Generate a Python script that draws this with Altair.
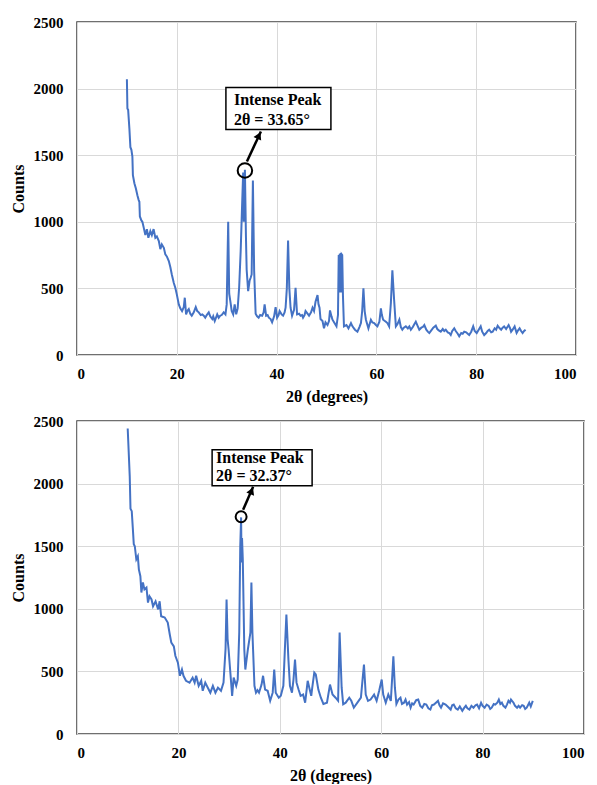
import altair as alt
import pandas as pd

# ---------------- data ----------------
top_theta = [10.0, 10.1, 10.25, 10.5, 10.7, 10.9, 11.1, 11.2, 11.5, 11.8, 12.1, 12.35, 12.5, 12.6, 12.9, 13.1,
             13.35, 13.7, 14.0, 14.3, 14.7, 15.0, 15.35, 15.7, 16.0, 16.4, 16.7, 17.0, 17.4, 17.7, 18.0, 18.4,
             18.7, 19.0, 19.4, 19.7, 20.0, 20.4, 20.7, 21.05, 21.4, 21.6, 21.86, 22.1, 22.4, 22.7, 23.0, 23.4,
             23.8, 24.1, 24.4, 24.8, 25.1, 25.4, 25.7, 26.0, 26.4, 26.7, 27.1, 27.3, 27.6, 27.9, 28.1, 28.4,
             28.7, 29.0, 29.4, 29.75, 30.0, 30.3, 30.5, 30.8, 31.0, 31.3, 31.6, 31.9, 32.2, 32.5, 32.8, 33.1,
             33.3, 33.42, 33.65, 33.85, 34.0, 34.3, 34.6, 34.8, 35.0, 35.25, 35.5, 35.8, 36.1, 36.4, 36.7, 37.1,
             37.4, 37.6, 37.9, 38.2, 38.45, 38.8, 39.1, 39.5, 39.8, 40.1, 40.4, 40.6, 41.0, 41.3, 41.6, 41.8,
             42.05, 42.3, 42.55, 42.8, 43.1, 43.5, 43.8, 44.1, 44.5, 44.8, 45.1, 45.3, 45.6, 45.8, 46.2, 46.5,
             46.9, 47.2, 47.5, 47.8, 48.2, 48.4, 48.6, 48.8, 49.2, 49.5, 49.8, 50.2, 50.5, 50.7, 51.0, 51.2,
             51.6, 52.0, 52.3, 52.45, 52.55, 52.65, 52.75, 52.85, 52.95, 53.05, 53.15, 53.3, 53.5, 54.0, 54.4,
             54.9, 55.2, 55.7, 56.2, 56.6, 56.9, 57.15, 57.4, 57.65, 57.9, 58.4, 58.9, 59.2, 59.55, 59.9, 60.2,
             60.6, 60.9, 61.1, 61.35, 61.9, 62.2, 62.55, 62.9, 63.2, 63.55, 63.9, 64.2, 64.6, 64.9, 65.2, 65.5,
             65.9, 66.3, 66.6, 66.9, 67.3, 67.6, 67.9, 68.3, 68.6, 69.0, 69.3, 69.6, 70.0, 70.3, 70.6, 71.0,
             71.4, 71.9, 72.2, 72.5, 72.9, 73.3, 73.6, 73.9, 74.3, 74.6, 74.9, 75.2, 75.6, 75.9, 76.3, 76.6,
             77.0, 77.3, 77.6, 78.0, 78.3, 78.6, 79.0, 79.4, 79.7, 80.1, 80.5, 80.9, 81.2, 81.6, 82.0, 82.3,
             82.6, 83.0, 83.3, 83.7, 84.0, 84.3, 84.7, 85.0, 85.3, 85.6, 86.0, 86.5, 86.8, 87.0, 87.3, 87.7,
             88.1, 88.4, 88.7, 89.0, 89.3, 89.6, 89.9]
top_counts = [2070, 1850, 1840, 1700, 1560, 1540, 1490, 1350, 1290, 1250, 1200, 1165, 1150, 1040, 1010, 1000,
              960, 900, 945, 880, 930, 900, 945, 880, 890, 855, 795, 830, 805, 755, 740, 705,
              660, 605, 540, 505, 455, 380, 350, 330, 360, 430, 305, 330, 345, 310, 295, 320,
              360, 330, 320, 300, 305, 295, 280, 300, 320, 290, 270, 290, 255, 285, 305, 280,
              295, 300, 320, 305, 380, 1000, 460, 385, 330, 305, 380, 305, 350, 510, 780, 1140,
              1370, 1000, 1390, 900, 640, 480, 560, 580, 605, 1310, 630, 310, 290, 280, 300, 295,
              320, 380, 295, 300, 280, 270, 245, 290, 360, 280, 300, 330, 305, 295, 320, 355,
              500, 860, 500, 355, 295, 340, 505, 305, 310, 295, 300, 280, 300, 330, 310, 295,
              320, 355, 330, 400, 450, 380, 355, 270, 255, 200, 245, 225, 255, 335, 290, 265,
              240, 215, 300, 750, 470, 760, 470, 765, 470, 755, 750, 440, 215, 225, 200,
              240, 215, 190, 175, 210, 240, 330, 500, 330, 265, 200, 265, 245, 240, 225, 215,
              250, 350, 300, 265, 250, 240, 215, 390, 635, 415, 215, 230, 265, 210, 190, 205,
              215, 200, 215, 190, 210, 230, 250, 215, 190, 205, 210, 225, 190, 175, 165, 185,
              205, 220, 195, 185, 175, 195, 180, 190, 170, 165, 150, 180, 200, 180, 160, 140,
              165, 160, 175, 170, 160, 150, 175, 215, 180, 165, 190, 215, 175, 150, 165, 180,
              190, 170, 175, 200, 190, 220, 200, 190, 205, 215, 195, 225, 200, 175, 190, 215,
              165, 185, 200, 180, 165, 180, 190]

bot_theta = [10.0, 10.2, 10.4, 10.55, 10.8, 11.0, 11.2, 11.4, 11.7, 12.0, 12.2, 12.5, 12.7, 13.0, 13.3, 13.7,
             14.0, 14.3, 14.7, 15.0, 15.5, 16.0, 16.3, 16.6, 17.0, 17.3, 17.9, 18.3, 18.6, 19.1, 19.4, 19.9,
             20.3, 20.7, 21.0, 21.5, 22.2, 22.8, 23.2, 23.5, 24.0, 24.5, 24.8, 25.3, 25.8, 26.3, 26.8, 27.3,
             27.8, 28.4, 28.9, 29.3, 29.5, 29.7, 29.9, 30.2, 30.6, 30.9, 31.4, 31.7, 32.0, 32.2, 32.37, 32.45,
             32.55, 32.7, 33.0, 33.2, 33.7, 34.0, 34.2, 34.4, 34.6, 35.0, 35.3, 35.6, 35.9, 36.4, 36.7, 37.1,
             37.6, 38.1, 38.6, 38.9, 39.2, 39.8, 40.2, 40.7, 41.0, 41.3, 41.7, 42.0, 42.4, 42.7, 43.0, 43.3,
             43.7, 44.1, 44.6, 45.0, 45.5, 45.9, 46.2, 46.4, 46.8, 47.1, 47.6, 48.1, 48.6, 49.3, 49.9, 50.4,
             51.0, 51.5, 51.8, 52.2, 52.5, 53.0, 53.7, 54.1, 54.6, 55.3, 56.0, 56.3, 56.6, 56.95, 57.4, 57.9,
             58.6, 59.1, 59.6, 60.1, 60.4, 60.9, 61.4, 61.9, 62.2, 62.4, 62.7, 63.0, 63.4, 63.8, 64.1, 64.5,
             64.8, 65.1, 65.5, 65.8, 66.1, 66.4, 66.9, 67.3, 67.7, 68.1, 68.5, 68.9, 69.3, 69.7, 70.0, 70.4,
             70.8, 71.2, 71.5, 71.8, 72.2, 72.7, 73.2, 73.7, 74.0, 74.3, 74.7, 75.1, 75.5, 76.0, 76.4, 76.7,
             77.0, 77.4, 77.8, 78.2, 78.6, 78.9, 79.3, 79.7, 80.0, 80.4, 80.8, 81.2, 81.5, 81.8, 82.2, 82.5,
             82.9, 83.2, 83.5, 83.8, 84.1, 84.5, 84.8, 85.1, 85.4, 85.6, 86.1, 86.4, 86.8, 87.1, 87.4, 87.8,
             88.1, 88.4, 88.7, 89.2, 89.5, 89.9]
bot_counts = [2440, 2250, 2060, 1800, 1780, 1650, 1515, 1500, 1395, 1420, 1315, 1260, 1130, 1210, 1155, 1170,
              1050, 1100, 1075, 1020, 1060, 995, 1060, 940, 935, 930, 890, 795, 730, 700, 625, 570,
              465, 515, 465, 425, 410, 450, 410, 465, 385, 425, 345, 410, 370, 330, 385, 330,
              370, 345, 410, 680, 1075, 760, 675, 515, 305, 450, 385, 435, 810, 1500, 1730, 1370,
              1565, 1395, 675, 515, 675, 755, 810, 1210, 810, 385, 330, 350, 330, 395, 465, 355,
              345, 265, 330, 515, 330, 290, 305, 385, 675, 955, 595, 385, 330, 435, 595, 410,
              355, 305, 315, 250, 425, 355, 305, 370, 490, 475, 355, 290, 240, 250, 395, 315,
              290, 265, 810, 370, 237, 250, 290, 265, 210, 250, 290, 425, 555, 315, 265, 275,
              315, 265, 345, 435, 315, 250, 315, 265, 475, 620, 370, 240, 275, 290, 240, 250,
              275, 235, 255, 210, 245, 235, 270, 275, 225, 210, 240, 235, 205, 195, 230, 235,
              250, 265, 230, 210, 245, 235, 215, 195, 230, 235, 205, 195, 220, 185, 210, 225,
              205, 195, 225, 210, 230, 235, 205, 250, 225, 210, 235, 225, 200, 210, 240, 235,
              250, 275, 240, 250, 225, 210, 235, 265, 250, 275, 250, 225, 210, 225, 210, 230,
              225, 200, 210, 250, 220, 265]

top_peak_theta, top_peak_counts = 33.65, 1385
bot_peak_theta, bot_peak_counts = 32.37, 1735
top_label = ["Intense Peak", "2θ = 33.65°"]
bot_label = ["Intense Peak", "2θ = 32.37°"]

x_ticks = [0, 20, 40, 60, 80, 100]
y_ticks = [0, 500, 1000, 1500, 2000, 2500]

BLUE = "#4472C4"
FONT = "'Liberation Serif', 'Times New Roman', Times, serif"


def panel(theta, counts, p_theta, p_counts, label, w, h, g):
    df = pd.DataFrame({"theta": theta, "counts": counts})
    pk = pd.DataFrame({"theta": [p_theta], "counts": [p_counts],
                       "l1": [label[0]], "l2": [label[1]]})
    xs = alt.Scale(domain=[0, 100], nice=False, zero=False)
    ys = alt.Scale(domain=[0, 2500], nice=False)
    x = alt.X("theta:Q", scale=xs, axis=alt.Axis(values=x_ticks, format="d", title="2θ (degrees)"))
    y = alt.Y("counts:Q", scale=ys, axis=alt.Axis(values=y_ticks, format="d", title="Counts"))

    line = alt.Chart(df).mark_line(color=BLUE, strokeWidth=2).encode(x=x, y=y)
    base = alt.Chart(pk)
    px = alt.X("theta:Q", scale=xs)
    py = alt.Y("counts:Q", scale=ys)
    circle = base.mark_point(shape="circle", filled=False, color="black",
                             strokeWidth=2, size=g["csize"], opacity=1).encode(x=px, y=py)
    arrow = base.mark_rule(color="black", strokeWidth=2.5,
                           xOffset=g["a0"][0], yOffset=g["a0"][1],
                           x2Offset=g["a1"][0], y2Offset=g["a1"][1]).encode(
        x=px, y=py, x2="theta:Q", y2="counts:Q")
    head = base.mark_point(shape="triangle-up", filled=True, color="black", opacity=1,
                           size=70, angle=g["ang"], xOffset=g["h"][0], yOffset=g["h"][1]).encode(x=px, y=py)
    box = base.mark_rect(fill="white", stroke="black", strokeWidth=1.5,
                         xOffset=g["bx"][0], x2Offset=g["bx"][1],
                         yOffset=g["by"][0], y2Offset=g["by"][1]).encode(
        x=px, y=py, x2="theta:Q", y2="counts:Q")
    t1 = base.mark_text(align="left", baseline="middle", font=FONT, fontWeight="bold",
                        fontSize=16, color="black", dx=g["tx"], dy=g["ty"][0]).encode(
        x=px, y=py, text="l1:N")
    t2 = base.mark_text(align="left", baseline="middle", font=FONT, fontWeight="bold",
                        fontSize=16, color="black", dx=g["tx"], dy=g["ty"][1]).encode(
        x=px, y=py, text="l2:N")
    return alt.layer(line, circle, arrow, head, box, t1, t2).properties(width=w, height=h)


top_geom = dict(csize=210, a0=(2, -9), a1=(16, -39), h=(14, -35), ang=25,
                bx=(-19, 86), by=(-83, -41), tx=-11, ty=(-71, -51))
bot_geom = dict(csize=120, a0=(2, -7), a1=(12, -30), h=(10.5, -26), ang=23,
                bx=(-29, 71), by=(-67, -31), tx=-25, ty=(-59, -41))

top = panel(top_theta, top_counts, top_peak_theta, top_peak_counts, top_label, 499, 333, top_geom)
bot = panel(bot_theta, bot_counts, bot_peak_theta, bot_peak_counts, bot_label, 507, 313, bot_geom)

chart = alt.vconcat(top, bot, spacing=8).properties(
    padding={"left": 9, "top": 14, "right": 0, "bottom": 0},
    background="white",
).configure_view(
    stroke="#404040", strokeWidth=1.5
).configure_axis(
    grid=True, gridColor="#d9d9d9", gridWidth=1, domain=False, ticks=False,
    labelFont=FONT, labelFontWeight="bold", labelFontSize=15, labelColor="black",
    titleFont=FONT, titleFontWeight="bold", titleFontSize=16, titleColor="black",
).configure_axisY(
    labelPadding=14, titlePadding=7
).configure_axisX(
    labelPadding=11, titlePadding=7
)

chart.save("out.html", embed_options={"renderer": "svg", "actions": False})
